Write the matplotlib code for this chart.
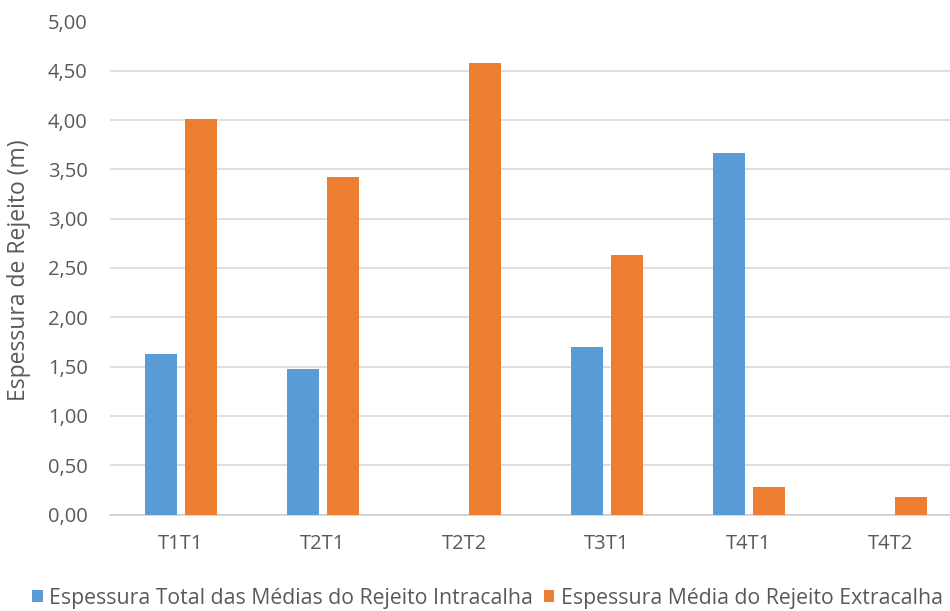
import matplotlib
matplotlib.use("Agg")
import matplotlib.pyplot as plt
import numpy as np
from matplotlib.ticker import FuncFormatter

categories = ["T1T1", "T2T1", "T2T2", "T3T1", "T4T1", "T4T2"]
intracalha = [1.63, 1.48, 0.0, 1.70, 3.67, 0.0]
extracalha = [4.01, 3.42, 4.58, 2.63, 0.28, 0.18]
series_names = ["Espessura Total das Médias do Rejeito Intracalha",
                "Espessura Média do Rejeito Extracalha"]

plt.rcParams["font.family"] = ["Open Sans", "DejaVu Sans"]
text_color = "#595959"
blue = "#5B9BD5"
orange = "#ED7D31"

W, H = 950, 611
fig = plt.figure(figsize=(W / 100, H / 100), dpi=100)
ax = fig.add_axes([110 / W, (H - 514.5) / H, 852 / W, 493 / H])

x = np.arange(len(categories))
w = 0.228
off = 0.141
b1 = ax.bar(x - off, intracalha, w, color=blue, label=series_names[0], zorder=3)
b2 = ax.bar(x + off, extracalha, w, color=orange, label=series_names[1], zorder=3)

ax.set_xlim(-0.5, len(categories) - 0.5)
ax.set_ylim(0, 5)
ax.set_yticks(np.arange(0, 5.01, 0.5))
ax.yaxis.set_major_formatter(FuncFormatter(lambda v, p: f"{v:.2f}".replace(".", ",")))
ax.set_xticks(x)
ax.set_xticklabels(categories)

ax.grid(axis="y", color="#D9D9D9", linewidth=1.2, zorder=0)
for s in ["top", "right", "left"]:
    ax.spines[s].set_visible(False)
ax.spines["bottom"].set_color("#D0D0D0")
ax.spines["bottom"].set_linewidth(1.2)
ax.tick_params(axis="both", length=0, labelsize=14.5, colors=text_color)
ax.tick_params(axis="y", pad=16)
ax.tick_params(axis="x", pad=14)

fig.text(19 / W, (H - 270) / H, "Espessura de Rejeito (m)", rotation=90,
         ha="center", va="center", fontsize=16.5, color=text_color)

fig.legend(handles=[b1, b2], loc="center", bbox_to_anchor=(0.513, 0.021), ncol=2,
           frameon=False, fontsize=15.3, labelcolor=text_color,
           handlelength=0.5, handleheight=0.5, handletextpad=0.3, columnspacing=0.5,
           borderpad=0)

fig.savefig("out.png", dpi=100)
